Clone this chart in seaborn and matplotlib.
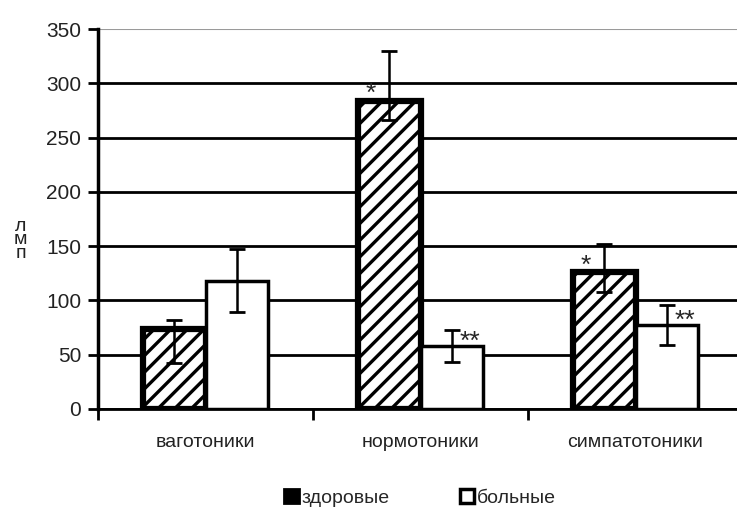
import numpy as np
import pandas as pd
import matplotlib
matplotlib.use("Agg")
from matplotlib import pyplot as plt
from matplotlib.patches import Patch
import seaborn as sns

# Data
groups = ["ваготоники", "нормотоники", "симпатотоники"]
series = ["здоровые", "больные"]
healthy = [74, 284, 126]
patients = [118, 58, 77]
healthy_up = [82, 330, 152]
healthy_low = [42, 266, 108]
patients_up = [147, 73, 96]
patients_low = [89, 43, 59]
marks_healthy = ["", "*", "*"]
marks_patients = ["", "**", "**"]

df = pd.DataFrame({
    "group": groups * 2,
    "series": [series[0]] * 3 + [series[1]] * 3,
    "value": healthy + patients,
})

sns.set_theme(style="white")
plt.rcParams["font.family"] = ["Liberation Sans", "DejaVu Sans"]
plt.rcParams["hatch.linewidth"] = 2.4

fig = plt.figure(figsize=(7.37, 5.09), dpi=100)
ax = fig.add_axes([98 / 737, 100 / 509, 645 / 737, 380 / 509])

sns.barplot(data=df, x="group", y="value", hue="series", order=groups,
            hue_order=series, palette=["white", "white"], width=0.58,
            errorbar=None, legend=False, ax=ax, zorder=3)

n = len(groups)
patches = ax.patches[:2 * n]
for i, p in enumerate(patches):
    p.set_edgecolor("black")
    p.set_linewidth(2.5)
    if i < n:
        p.set_hatch("//")
        p.set_linewidth(4.5)

# error bars (asymmetric)
for i, p in enumerate(patches):
    cx = p.get_x() + p.get_width() / 2
    if i < n:
        v, up, lo = healthy[i], healthy_up[i], healthy_low[i]
    else:
        j = i - n
        v, up, lo = patients[j], patients_up[j], patients_low[j]
    ax.errorbar(cx, v, yerr=[[v - lo], [up - v]], fmt="none", ecolor="black",
                elinewidth=1.8, capsize=6, capthick=2, zorder=5)

# significance marks
for i in range(n):
    ph = patches[i]
    if marks_healthy[i]:
        ax.text(ph.get_x() + 0.2 * ph.get_width(), healthy[i] - 5, marks_healthy[i],
                ha="center", va="bottom", fontsize=19, zorder=6)
    pp = patches[n + i]
    if marks_patients[i]:
        ax.text(pp.get_x() + 0.8 * pp.get_width(), patients[i] - 7, marks_patients[i],
                ha="center", va="bottom", fontsize=19, zorder=6)

ax.set_ylim(0, 350)
ax.set_xlim(-0.5, n - 0.5)
ax.set_yticks(np.arange(0, 351, 50))
ax.yaxis.grid(True, color="black", linewidth=2)
ax.get_ygridlines()[-1].set_color("#9a9a9a")
ax.get_ygridlines()[-1].set_linewidth(1.5)
ax.set_axisbelow(True)
for s in ["top", "right"]:
    ax.spines[s].set_visible(False)
ax.spines["left"].set_color("black")
ax.spines["left"].set_linewidth(2.5)
ax.spines["bottom"].set_color("black")
ax.spines["bottom"].set_linewidth(2)

ax.tick_params(axis="y", which="major", direction="out", length=7, width=2,
               color="black", left=True, labelsize=15, pad=5, labelcolor="#222222")
ax.set_xticks(range(n))
ax.set_xticklabels(groups, fontsize=14, color="#222222")
ax.set_xticks(np.arange(-0.5, n, 1.0), minor=True)
ax.tick_params(axis="x", which="major", length=0, pad=18)
ax.tick_params(axis="x", which="minor", direction="out", length=8, width=2,
               color="black", bottom=True)
ax.set_xlabel("")
ax.set_ylabel("л\nм\nп", rotation=0, fontsize=14, linespacing=0.75,
              color="#222222", va="center")
ax.yaxis.set_label_coords(-0.12, 0.445)

handles = [Patch(facecolor="black", edgecolor="black", linewidth=2),
           Patch(facecolor="white", edgecolor="black", linewidth=2.5)]
fig.legend(handles, series, loc="lower center", bbox_to_anchor=(0.57, -0.03),
           ncol=2, frameon=False, fontsize=14, handlelength=0.75, handleheight=0.75,
           handletextpad=0.15, columnspacing=3.6)

fig.savefig("out.png", dpi=100, facecolor="white")
